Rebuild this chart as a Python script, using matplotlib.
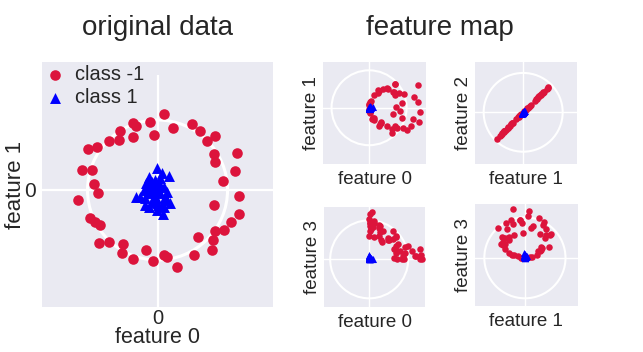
import numpy as np
import matplotlib
matplotlib.use("Agg")
import matplotlib.pyplot as plt

# ---- data (units: white circle radius = 1) ----
red_x = [0.096, -0.114, -0.351, -0.308, 0.214, 0.491, 0.600, -0.533, -0.057, -0.357,
         0.824, 0.706, -0.700, -0.557, -0.866, -1.000, 0.800, 1.139, 0.824, -1.080,
         -0.937, 1.100, -0.914, 0.939, -0.851, 1.167, -1.143, 0.804, 1.157, -0.961,
         -0.890, -0.819, 1.053, 0.824, 0.953, 0.571, 0.786, -0.833, -0.700, -0.496,
         0.781, -0.504, -0.166, 0.086, 0.133, 0.514, -0.351, -0.066, 0.276]
red_y = [1.081, 0.971, 0.961, 0.914, 0.886, 0.943, 0.847, 0.838, 0.781, 0.757,
         0.771, 0.700, 0.704, 0.710, 0.619, 0.590, 0.510, 0.524, 0.404, 0.286,
         0.286, 0.271, 0.086, 0.124, -0.039, -0.086, -0.143, -0.214, -0.339, -0.396,
         -0.453, -0.504, -0.461, -0.586, -0.571, -0.671, -0.719, -0.753, -0.747, -0.771,
         -0.857, -0.896, -0.857, -0.929, -0.961, -0.924, -0.986, -1.014, -1.096]
blue_x = [-0.009, 0.167, -0.129, 0.063, -0.081, -0.161, -0.200, -0.304, -0.186, 0.077,
          -0.009, 0.134, 0.181, -0.081, -0.047, 0.029, 0.086, -0.057, 0.014, -0.104,
          0.110, -0.009, 0.063, -0.151, -0.033, 0.039, -0.104, -0.009, 0.134, -0.129,
          -0.019, 0.086, -0.247, -0.176, 0.000]
blue_y = [0.310, 0.200, 0.190, 0.239, 0.119, 0.104, 0.000, -0.096, -0.214, -0.347,
          -0.286, -0.143, -0.181, -0.167, 0.000, -0.048, 0.047, -0.096, 0.096, -0.048,
          -0.096, -0.190, -0.214, 0.047, 0.143, 0.167, 0.071, 0.024, -0.024, -0.239,
          -0.119, -0.243, -0.096, -0.119, -0.214]

# feature map: (x0*x0, x0*x1, x1*x0, x1*x1)
def feature_map(x, y):
    x = np.asarray(x); y = np.asarray(y)
    return [x * x, x * y, y * x, y * y]

red_f = feature_map(red_x, red_y)
blue_f = feature_map(blue_x, blue_y)

panels = [(0, 1), (1, 2), (0, 3), (1, 3)]
panel_xlim = [(-1.22, 1.51), (-1.22, 1.37), (-1.15, 1.43), (-1.23, 1.30)]
panel_ylim = [(-1.51, 1.23), (-1.32, 1.27), (-1.23, 1.35), (-1.19, 1.33)]

RED = "#DC143C"
BLUE = "#0000FF"
FACE = "#EAEAF2"
TXT = "#262626"

plt.rcParams["font.family"] = ["Liberation Sans", "DejaVu Sans"]
plt.rcParams["text.color"] = TXT
plt.rcParams["axes.labelcolor"] = TXT
plt.rcParams["xtick.color"] = TXT
plt.rcParams["ytick.color"] = TXT

fig = plt.figure(figsize=(6.43, 3.52), dpi=100)

def style(ax):
    ax.set_facecolor(FACE)
    for s in ax.spines.values():
        s.set_visible(False)
    ax.tick_params(length=0)
    ax.set_axisbelow(True)

# ---- left panel ----
ax = fig.add_axes([0.0649, 0.1287, 0.3602, 0.6943])
style(ax)
lim = 1.654
ax.set_xlim(-lim, lim)
ax.set_ylim(-1.667, 1.824)
ax.axhline(0, color="white", lw=1.6, zorder=0)
ax.vlines(0, -1.667, 1.643, color="white", lw=1.6, zorder=0)
ax.add_patch(plt.Circle((0, 0), 1, fill=False, ec="white", lw=2.2, zorder=1))
ax.scatter(red_x, red_y, s=58, c=RED, marker="o", linewidths=0, label="class -1", zorder=3)
ax.scatter(blue_x, blue_y, s=62, c=BLUE, marker="^", linewidths=0, label="class 1", zorder=3)
ax.set_xticks([0]); ax.set_yticks([0])
ax.tick_params(axis="x", labelsize=14.5, pad=1.5)
ax.tick_params(axis="y", labelsize=15, pad=4)
ax.set_xlabel("feature 0", fontsize=15.5, labelpad=-0.5)
ax.set_ylabel("feature 1", fontsize=16, labelpad=-1)
ax.legend(loc="upper left", frameon=False, fontsize=14.4, handlelength=1.0,
          handletextpad=0.5, borderaxespad=0.05, labelspacing=0.2, borderpad=0.1)

# ---- feature map panels ----
rects = [[0.5028, 0.5332, 0.1593, 0.2915],
         [0.7387, 0.5332, 0.1591, 0.2898],
         [0.5044, 0.1270, 0.1566, 0.2858],
         [0.7387, 0.1307, 0.1597, 0.2898]]
for (i, j), r, xl, yl in zip(panels, rects, panel_xlim, panel_ylim):
    a = fig.add_axes(r)
    style(a)
    a.set_xlim(*xl); a.set_ylim(*yl)
    a.axhline(0, color="white", lw=1.0, zorder=0)
    a.axvline(0, color="white", lw=1.0, zorder=0)
    a.add_patch(plt.Circle((0, 0), 1, fill=False, ec="white", lw=1.5, zorder=1))
    a.scatter(red_f[i], red_f[j], s=22, c=RED, marker="o", linewidths=0, zorder=3)
    a.scatter(blue_f[i], blue_f[j], s=26, c=BLUE, marker="^", linewidths=0, zorder=3)
    a.set_xticks([]); a.set_yticks([])
    a.set_xlabel(f"feature {i}", fontsize=13.5, labelpad=5)
    a.set_ylabel(f"feature {j}", fontsize=13.5, labelpad=2.5)

fig.text(0.2457, 317 / 352, "original data", fontsize=20, ha="center", va="baseline")
fig.text(0.684, 317 / 352, "feature map", fontsize=20, ha="center", va="baseline")

fig.savefig("out.png", dpi=100)
